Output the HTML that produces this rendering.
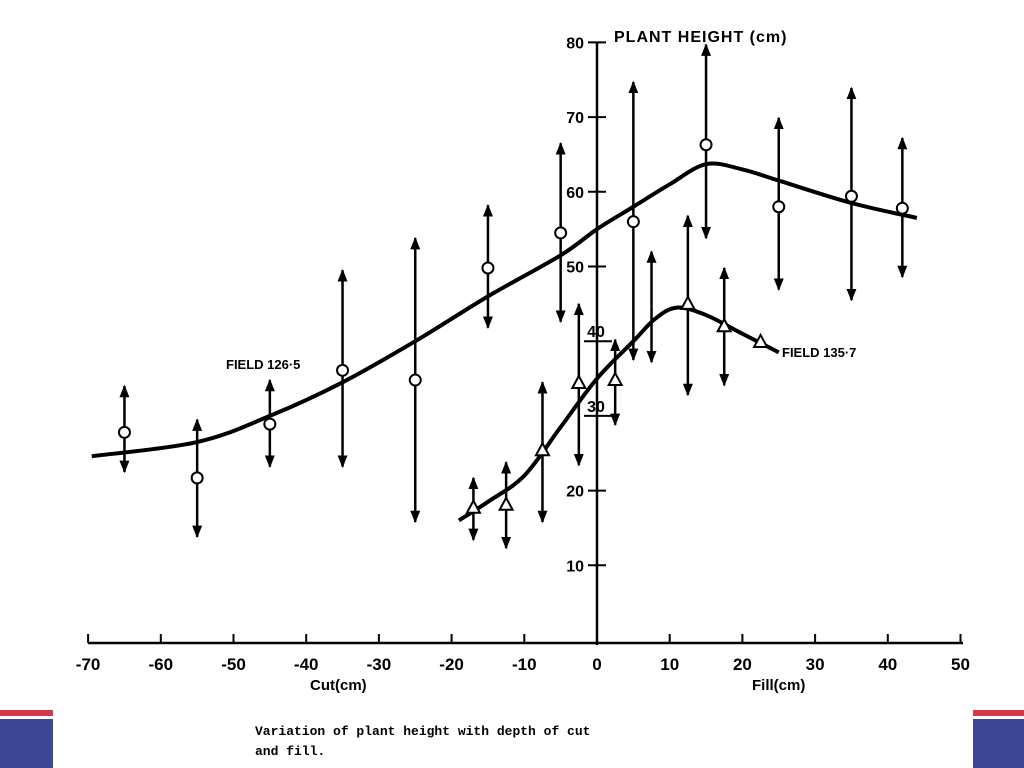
<!DOCTYPE html>
<html><head><meta charset="utf-8"><style>
body{margin:0;background:#fff;}
svg{display:block;font-family:"Liberation Sans",sans-serif;}
</style></head><body>
<svg width="1024" height="768" viewBox="0 0 1024 768">
<defs><marker id="ah" viewBox="0 0 10 10" refX="9" refY="5" markerWidth="5" markerHeight="6" orient="auto-start-reverse"><path d="M0,1 L10,5 L0,9 z" fill="#000"/></marker></defs>
<g id="axes"></g>
<g id="marks"></g>
<text x="614" y="42" font-size="16" font-weight="bold" letter-spacing="1">PLANT HEIGHT (cm)</text>
<text x="310" y="690" font-size="15" font-weight="bold">Cut(cm)</text>
<text x="752" y="690" font-size="15" font-weight="bold">Fill(cm)</text>
<text x="226" y="369" font-size="13" font-weight="bold">FIELD 126·5</text>
<text x="782" y="357" font-size="13" font-weight="bold">FIELD 135·7</text>
<text x="255" y="735" font-size="13" font-weight="bold" font-family="Liberation Mono,monospace">Variation of plant height with depth of cut</text>
<text x="255" y="755" font-size="13" font-weight="bold" font-family="Liberation Mono,monospace">and fill.</text>
<rect x="0" y="710" width="53" height="6" fill="#d23a48"/>
<rect x="0" y="719" width="53" height="49" fill="#3d4595"/>
<rect x="973" y="710" width="51" height="6" fill="#d23a48"/>
<rect x="973" y="719" width="51" height="49" fill="#3d4595"/>
</svg>
<script>
const xTicks=[-70,-60,-50,-40,-30,-20,-10,0,10,20,30,40,50];
const yTicks=[10,20,30,40,50,60,70,80];
const f1X=[-65,-55,-45,-35,-25,-15,-5,5,15,25,35,42];
const f1Y=[27.8,21.7,28.9,36.1,34.8,49.8,54.5,56,66.3,58,59.4,57.8];
const f1Lo=[22.5,13.8,23.2,23.2,15.8,41.8,42.6,37.5,53.8,46.9,45.5,48.6];
const f1Hi=[34,29.5,34.8,49.5,53.8,58.2,66.5,74.7,79.7,69.9,73.9,67.2];
const c1X=[-69.5,-55,-45,-35,-25,-15,-5,0,5,10,15,20,25,35,44];
const c1Y=[24.6,26.5,30,34.5,40,46,51.5,55,58,61,63.7,63,61.5,58.5,56.5];
const f2X=[-17,-12.5,-7.5,-2.5,2.5,7.5,12.5,17.5,22.5];
const f2Y=[17.7,18.1,25.4,34.4,34.8,null,45,42,39.9];
const f2Lo=[13.4,12.3,15.8,23.4,28.8,37.2,32.8,34.1,null];
const f2Hi=[21.7,23.8,34.5,45,40.2,52,56.8,49.8,null];
const c2X=[-19,-15,-10,-5,0,5,8,11,15,20,25];
const c2Y=[16,18.5,22,28.5,35,40,43,44.5,43.5,41,38.5];
const NS="http://www.w3.org/2000/svg";
const sx=v=>597+v*7.27, sy=v=>640-v*7.47;
function mk(t,a,p){const e=document.createElementNS(NS,t);for(const k in a)e.setAttribute(k,a[k]);p.appendChild(e);return e;}
const ax=document.getElementById('axes'), mg=document.getElementById('marks');
let e=mk('line',{x1:88,y1:643,x2:963,y2:643,stroke:'#000','stroke-width':2.5},ax);


e=mk('line',{x1:597,y1:42,x2:597,y2:645,stroke:'#000','stroke-width':2.5},ax);


xTicks.forEach(v=>{
 mk('line',{x1:sx(v),y1:643,x2:sx(v),y2:634,stroke:'#000','stroke-width':2},ax);
 const t=mk('text',{x:sx(v),y:670,'font-size':17,'font-weight':'bold','text-anchor':'middle'},ax);t.textContent=v;
 
 
});
yTicks.forEach(v=>{
 const near=(v===30||v===40);
 mk('line',{x1:near?584:588,y1:sy(v),x2:near?612:606,y2:sy(v),stroke:'#000','stroke-width':2},ax);
 const t=mk('text',{x:near?596:584,y:sy(v)+(near?-4:6),'font-size':16,'font-weight':'bold','text-anchor':near?'middle':'end'},ax);t.textContent=v;
 
 
});
function curve(X,Y,name){
 const p=X.map((x,i)=>[sx(x),sy(Y[i])]);let d='M'+p[0];
 for(let i=0;i<p.length-1;i++){const p0=p[i-1]||p[i],p1=p[i],p2=p[i+1],p3=p[i+2]||p2;
  d+=' C'+(p1[0]+(p2[0]-p0[0])/6)+','+(p1[1]+(p2[1]-p0[1])/6)+' '+(p2[0]-(p3[0]-p1[0])/6)+','+(p2[1]-(p3[1]-p1[1])/6)+' '+p2;}
 const el=mk('path',{d:d,fill:'none',stroke:'#000','stroke-width':4},mg);
 
 
}
function bars(X,Y,Lo,Hi,shape){
 X.forEach((x,i)=>{
  if(Lo[i]!=null){
   const y0=Y[i]!=null?Y[i]:(Lo[i]+Hi[i])/2;
   let l=mk('line',{x1:sx(x),y1:sy(y0),x2:sx(x),y2:sy(Hi[i]),stroke:'#000','stroke-width':2.5,'marker-end':'url(#ah)'},mg);
   
   
   l=mk('line',{x1:sx(x),y1:sy(y0),x2:sx(x),y2:sy(Lo[i]),stroke:'#000','stroke-width':2.5,'marker-end':'url(#ah)'},mg);
   
   
  }
  if(Y[i]==null)return;
  const cx=sx(x),cy=sy(Y[i]);let m;
  if(shape==='c')m=mk('circle',{cx:cx,cy:cy,r:5.5,fill:'#fff',stroke:'#000','stroke-width':2},mg);
  else m=mk('polygon',{points:`${cx},${cy-7} ${cx-6.5},${cy+5} ${cx+6.5},${cy+5}`,fill:'#fff',stroke:'#000','stroke-width':2},mg);
  
  
 });
}
curve(c1X,c1Y,'curve-field-126-5');
curve(c2X,c2Y,'curve-field-135-7');
bars(f1X,f1Y,f1Lo,f1Hi,'c');
bars(f2X,f2Y,f2Lo,f2Hi,'t');
</script>
</body></html>
